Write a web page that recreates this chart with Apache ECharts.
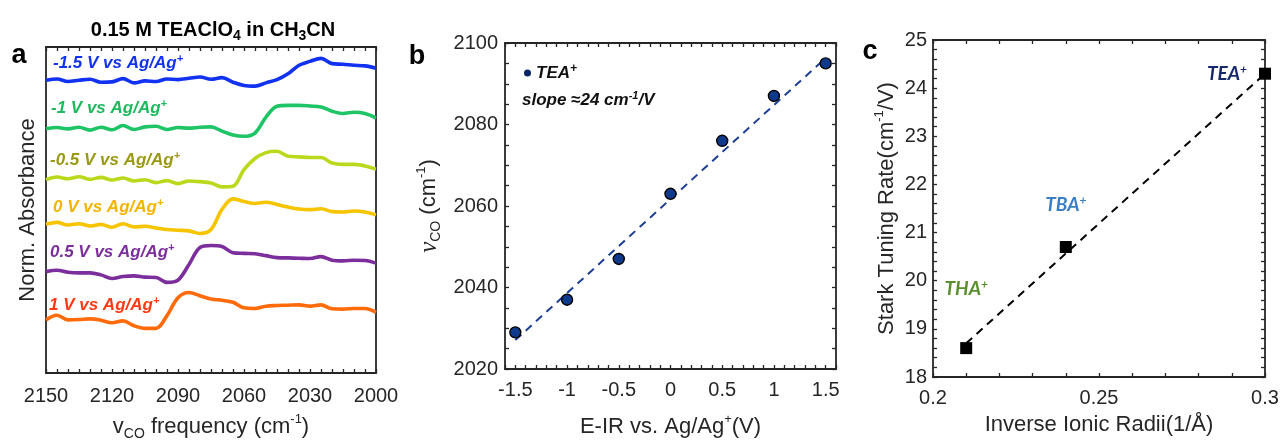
<!DOCTYPE html>
<html><head><meta charset="utf-8">
<script src="https://cdn.jsdelivr.net/npm/echarts@6/dist/echarts.min.js"></script>
<style>html,body{margin:0;padding:0;background:#fff}#c{width:1281px;height:443px}</style>
</head><body><div id="c"></div>
<script>
// ---------- Panel a: spectra (offset normalized absorbance, arbitrary units) ----------
const wavenumbers = [2150,2145,2140,2135,2130,2125,2120,2115,2110,2105,2100,2095,2090,2085,2080,2075,2070,2065,2060,2055,2050,2045,2040,2035,2030,2025,2020,2015,2010,2005,2000];
const absM15 = [89.8,90.2,89.4,89.8,90.1,89.2,89.3,90.3,89.0,89.6,89.4,90.2,90.0,90.4,90.8,90.1,90.6,89.2,88.2,88.0,89.0,90.0,91.8,94.4,95.6,96.5,94.9,94.7,94.4,94.2,93.5];
const absM10 = [74.9,75.3,74.9,75.4,74.5,75.4,74.6,75.9,74.7,75.5,75.7,74.7,75.3,75.1,75.4,75.5,74.2,73.0,72.6,73.6,78.5,81.8,82.1,82.1,81.9,81.6,80.3,79.6,80.0,79.6,78.2];
const absM05 = [59.3,60.1,59.6,60.2,59.4,60.0,59.2,59.8,58.9,59.3,58.4,59.0,58.1,58.9,58.7,58.3,57.1,57.3,62.4,65.8,67.6,68.0,66.5,66.3,66.1,66.1,64.4,64.0,64.0,63.5,62.5];
const abs00  = [45.6,46.2,45.4,45.8,45.1,45.6,44.7,45.8,44.8,45.0,44.5,44.0,43.8,43.6,42.8,44.0,50.2,53.4,52.6,52.0,52.4,51.7,50.9,50.3,50.1,50.4,49.5,49.4,49.7,49.4,48.5];
const absP05 = [31.1,31.5,30.9,30.7,30.7,30.1,29.0,29.6,29.8,29.4,29.3,27.8,28.5,33.3,38.5,39.1,38.8,36.9,36.7,36.6,36.0,35.4,35.3,35.2,35.1,35.7,34.6,34.4,34.6,34.5,33.7];
const absP10 = [16.3,17.7,16.3,16.4,16.6,16.2,15.4,16.0,14.5,13.7,13.7,17.6,23.1,24.7,23.7,22.7,22.3,21.7,20.0,19.8,20.5,20.7,20.8,20.9,20.5,20.9,19.7,19.6,19.8,19.8,18.6];
const spectraNames = ['-1.5 V vs Ag/Ag','-1 V vs Ag/Ag','-0.5 V vs Ag/Ag','0 V vs Ag/Ag','0.5 V vs Ag/Ag','1 V vs Ag/Ag'];
const spectraData = [absM15, absM10, absM05, abs00, absP05, absP10];
const ticksA = [2150,2120,2090,2060,2030,2000];

// ---------- Panel b ----------
const potentials = [-1.5,-1,-0.5,0,0.5,1,1.5];
const nuCO = [2029,2037,2047,2063,2076,2087,2095];
const fitBx = [-1.5, 1.5];
const fitBy = [2027.1, 2096.3];
const ticksBx = [-1.5,-1,-0.5,0,0.5,1,1.5];
const ticksBy = [2020,2040,2060,2080,2100];

// ---------- Panel c ----------
const cations = ['THA','TBA','TEA'];
const invRadii = [0.21,0.24,0.30];
const starkRate = [18.6,20.7,24.3];
const fitCx = [0.21, 0.30];
const fitCy = [18.7, 24.3];
const ticksCx = [0.2,0.25,0.3];
const ticksCy = [18,19,20,21,22,23,24,25];

// ---------- styles ----------
const FONT = 'Liberation Sans, Arial, sans-serif';
const AX = '#262626';
const lineColors = ['#1232f2','#1fc466','#bcd81c','#f7c400','#7b2e9c','#ff6a0a'];
const labelColors = ['#1232f2','#1fb85e','#9a9a12','#f5b400','#7b2e9c','#ff3a12'];
const cationColors = ['#5a8f2e','#3a7fc4','#17296b'];

function fmt(list){ return function(v){ const t = list.find(t => Math.abs(t - v) < 1e-6); return t === undefined ? '' : String(t); }; }

const supRich = {
  t:{fontSize:20, fontFamily:FONT, color:AX, lineHeight:26},
  sup:{fontSize:13, fontFamily:FONT, color:AX, verticalAlign:'top', lineHeight:14},
  sub:{fontSize:14, fontFamily:FONT, color:AX, verticalAlign:'bottom', lineHeight:14},
  nu:{fontSize:25, fontFamily:'Liberation Serif, serif', fontStyle:'italic', color:AX, lineHeight:26}
};

function ax(grid, pos, min, max, step, labels, opts){
  const labelled = (pos === 'bottom' || pos === 'left');
  const o = {
    type:'value', gridIndex:grid, position:pos, min:min, max:max, interval:step,
    axisLine:{show:true, onZero:false, lineStyle:{color:AX, width:1.8}},
    axisTick:{show:true, inside:true, length:4, lineStyle:{color:AX, width:1.3}},
    axisLabel:{show:labelled, formatter:fmt(labels), color:AX, fontSize:20, fontFamily:FONT, margin:10, showMinLabel:true, showMaxLabel:true},
    splitLine:{show:false}
  };
  return Object.assign(o, opts || {});
}
const nameRich = Object.assign({}, supRich, {t:{fontSize:22,fontFamily:FONT,color:AX,lineHeight:28}});

const xAxes = [
  ax(0,'bottom',2000,2150,5,ticksA,{inverse:true, name:'{t|v}{sub|CO}{t| frequency (cm}{sup|-1}{t|)}', nameLocation:'middle', nameGap:40, nameTextStyle:{rich:nameRich}}),
  ax(0,'top',2000,2150,5,ticksA,{inverse:true}),
  ax(1,'bottom',-1.6,1.6,0.1,ticksBx,{name:'{t|E-IR vs. Ag/Ag}{sup|+}{t|(V)}', nameLocation:'middle', nameGap:44, nameTextStyle:{rich:nameRich}}),
  ax(1,'top',-1.6,1.6,0.1,ticksBx),
  ax(2,'bottom',0.2,0.3,0.01,ticksCx,{name:'Inverse Ionic Radii(1/Å)', nameLocation:'middle', nameGap:37, nameTextStyle:{fontSize:22, fontFamily:FONT, color:AX}}),
  ax(2,'top',0.2,0.3,0.01,ticksCx)
];
const yAxes = [
  ax(0,'left',0,100,100,[],{axisTick:{show:false}, axisLabel:{show:false}, name:'Norm. Absorbance', nameLocation:'middle', nameGap:7, nameTextStyle:{fontSize:22, fontFamily:FONT, color:AX}}),
  ax(0,'right',0,100,100,[],{axisTick:{show:false}}),
  ax(1,'left',2020,2100,5,ticksBy,{name:'{nu|ν}{sub|CO}{t| (cm}{sup|-1}{t|)}', nameLocation:'middle', nameGap:62, nameTextStyle:{rich:nameRich}}),
  ax(1,'right',2020,2100,5,ticksBy),
  ax(2,'left',18,25,0.2,ticksCy,{name:'{t|Stark Tuning Rate(cm}{sup|-1}{t|/V)}', nameLocation:'middle', nameGap:32, nameTextStyle:{rich:nameRich}}),
  ax(2,'right',18,25,0.2,ticksCy)
];
yAxes[2].axisLabel.margin = 7;
yAxes[4].axisLabel.margin = 6;
xAxes[0].axisLabel.margin = 13;
xAxes[2].axisLabel.margin = 11;
xAxes[4].axisLabel.margin = 11;

const series = [];
spectraData.forEach((arr, k) => {
  series.push({
    type:'line', name:spectraNames[k], xAxisIndex:0, yAxisIndex:0,
    data: wavenumbers.map((w,i) => [w, arr[i]]),
    showSymbol:false, smooth:0.35, silent:true,
    lineStyle:{color:lineColors[k], width:3.6}
  });
});
series.push({
  type:'line', name:'fitB', xAxisIndex:2, yAxisIndex:2,
  data: fitBx.map((x,i) => [x, fitBy[i]]),
  showSymbol:false, lineStyle:{color:'#1c3f94', width:2, type:[8,6]}, z:2
});
series.push({
  type:'scatter', name:'TEA+', xAxisIndex:2, yAxisIndex:2,
  data: potentials.map((p,i) => [p, nuCO[i]]),
  symbol:'circle', symbolSize:11,
  itemStyle:{color:'#0f3a8c', borderColor:'#000', borderWidth:1.4, opacity:1}, z:3
});
series.push({
  type:'line', name:'fitC', xAxisIndex:4, yAxisIndex:4,
  data: fitCx.map((x,i) => [x, fitCy[i]]),
  showSymbol:false, lineStyle:{color:'#000', width:2, type:[8,6]}, z:2
});
const labelOffsets = [[0,-36],[0,-19],[-6,0]];
series.push({
  type:'scatter', name:'cations', xAxisIndex:4, yAxisIndex:4,
  symbol:'rect', symbolSize:12, itemStyle:{color:'#000', opacity:1}, z:3,
  data: cations.map((c,i) => ({
    value:[invRadii[i], starkRate[i]],
    label:{
      show:true, position: i === 2 ? 'left' : 'top', offset: labelOffsets[i], distance: 6,
      formatter: '{n|' + c + '}{p|+}',
      rich:{
        n:{fontSize:19, fontFamily:'Lato, sans-serif', fontWeight:'bold', fontStyle:'italic', color:cationColors[i], lineHeight:22},
        p:{fontSize:12, fontFamily:'Lato, sans-serif', fontWeight:'bold', fontStyle:'italic', color:cationColors[i], verticalAlign:'top', lineHeight:12}
      }
    }
  }))
});

const boldItZ = {fontWeight:'bold', fontStyle:'italic', fontFamily:FONT};
const spectraLabelPos = [[53,63],[51,108],[50,160],[53,207],[50,252],[49,305]];
const graphics = [];
spectraNames.forEach((n,k) => {
  graphics.push({
    type:'text', x:spectraLabelPos[k][0], y:spectraLabelPos[k][1],
    style:{
      text:'{t|' + n + '}{s|+}', fill:labelColors[k], align:'left', verticalAlign:'middle', textAlign:'left', textVerticalAlign:'middle',
      fontWeight:'bold', fontStyle:'italic', fontFamily:FONT, fontSize:17,
      rich:{
        t:Object.assign({fontSize:17, fill:labelColors[k], color:labelColors[k], lineHeight:20}, boldItZ),
        s:Object.assign({fontSize:11, fill:labelColors[k], color:labelColors[k], verticalAlign:'top', lineHeight:11}, boldItZ)
      }
    }
  });
});
[['a',19,56],['b',417,57],['c',870,52]].forEach(p => {
  graphics.push({type:'text', x:p[1], y:p[2], style:{text:p[0], font:'bold 27px Liberation Sans, Arial, sans-serif', fill:'#000', align:'center', verticalAlign:'middle', textAlign:'center', textVerticalAlign:'middle'}});
});
graphics.push({
  type:'text', x:522, y:100,
  style:{
    text:'{t|slope \u224824 cm}{s|-1}{t|/V}', fill:'#111', align:'left', verticalAlign:'middle', textAlign:'left', textVerticalAlign:'middle',
    rich:{ t:Object.assign({fontSize:17, fill:'#111', lineHeight:20}, boldItZ), s:Object.assign({fontSize:11, fill:'#111', verticalAlign:'top', lineHeight:11}, boldItZ) }
  }
});

const option = {
  animation:false,
  backgroundColor:'#fff',
  title:{
    text:'{t|0.15 M TEAClO}{sub|4}{t| in CH}{sub|3}{t|CN}', left:208, top:12, textAlign:'center',
    textStyle:{fontSize:20, fontWeight:'bold', fontFamily:FONT, color:'#000',
      rich:{ t:{fontSize:20, fontWeight:'bold', fontFamily:FONT, color:'#000', lineHeight:26}, sub:{fontSize:14, fontWeight:'bold', fontFamily:FONT, color:'#000', verticalAlign:'bottom', lineHeight:14} } }
  },
  legend:{
    left:519, top:58, itemWidth:7, itemHeight:7, itemGap:4,
    data:[{name:'TEA+', icon:'circle', itemStyle:{color:'#0b2466', borderWidth:0, opacity:1}}],
    formatter:function(){ return '{t|TEA}{s|+}'; },
    textStyle:{ rich:{ t:Object.assign({fontSize:17, color:'#111', lineHeight:20}, boldItZ), s:Object.assign({fontSize:12, color:'#111', verticalAlign:'top', lineHeight:11}, boldItZ) } }
  },
  grid:[
    {left:46, top:47, width:330, height:326, show:false, containLabel:false, outerBoundsMode:'none'},
    {left:505, top:43, width:331, height:326, show:false, containLabel:false, outerBoundsMode:'none'},
    {left:933, top:40, width:332, height:337, show:false, containLabel:false, outerBoundsMode:'none'}
  ],
  xAxis:xAxes, yAxis:yAxes, series:series, graphic:graphics
};
const chart = echarts.init(document.getElementById('c'), null, {renderer:'canvas'});
chart.setOption(option);
</script></body></html>
